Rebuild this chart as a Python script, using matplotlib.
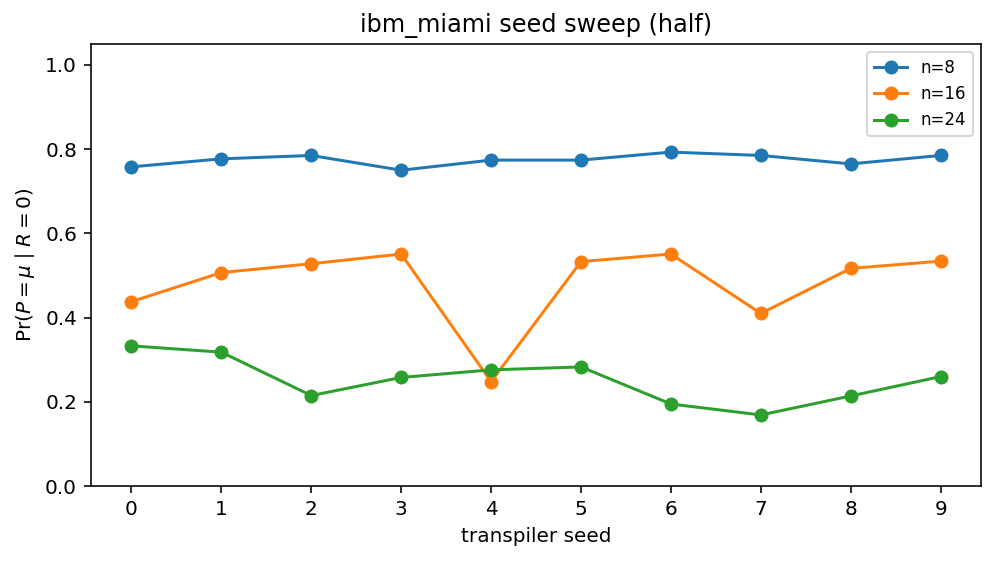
import matplotlib
matplotlib.use('Agg')
import matplotlib.pyplot as plt

seeds = list(range(10))
n8 = [0.758, 0.777, 0.785, 0.750, 0.774, 0.774, 0.793, 0.785, 0.765, 0.785]
n16 = [0.438, 0.507, 0.528, 0.551, 0.248, 0.533, 0.551, 0.410, 0.517, 0.534]
n24 = [0.333, 0.318, 0.215, 0.258, 0.276, 0.283, 0.195, 0.169, 0.214, 0.260]
labels = ['n=8', 'n=16', 'n=24']

dpi = 144
fig = plt.figure(figsize=(996/dpi, 562/dpi), dpi=dpi)
plt.subplots_adjust(left=0.0914, right=0.985, top=0.922, bottom=0.135)
for vals, lab in zip([n8, n16, n24], labels):
    plt.plot(seeds, vals, marker='o', label=lab)
plt.ylim(0, 1.05)
plt.xticks(seeds)
plt.xlabel('transpiler seed')
plt.ylabel(r'Pr$(P=\mu\mid R=0)$')
plt.title('ibm_miami seed sweep (half)')
plt.legend(loc='upper right', fontsize='small')
plt.savefig('out.png', dpi=dpi)
